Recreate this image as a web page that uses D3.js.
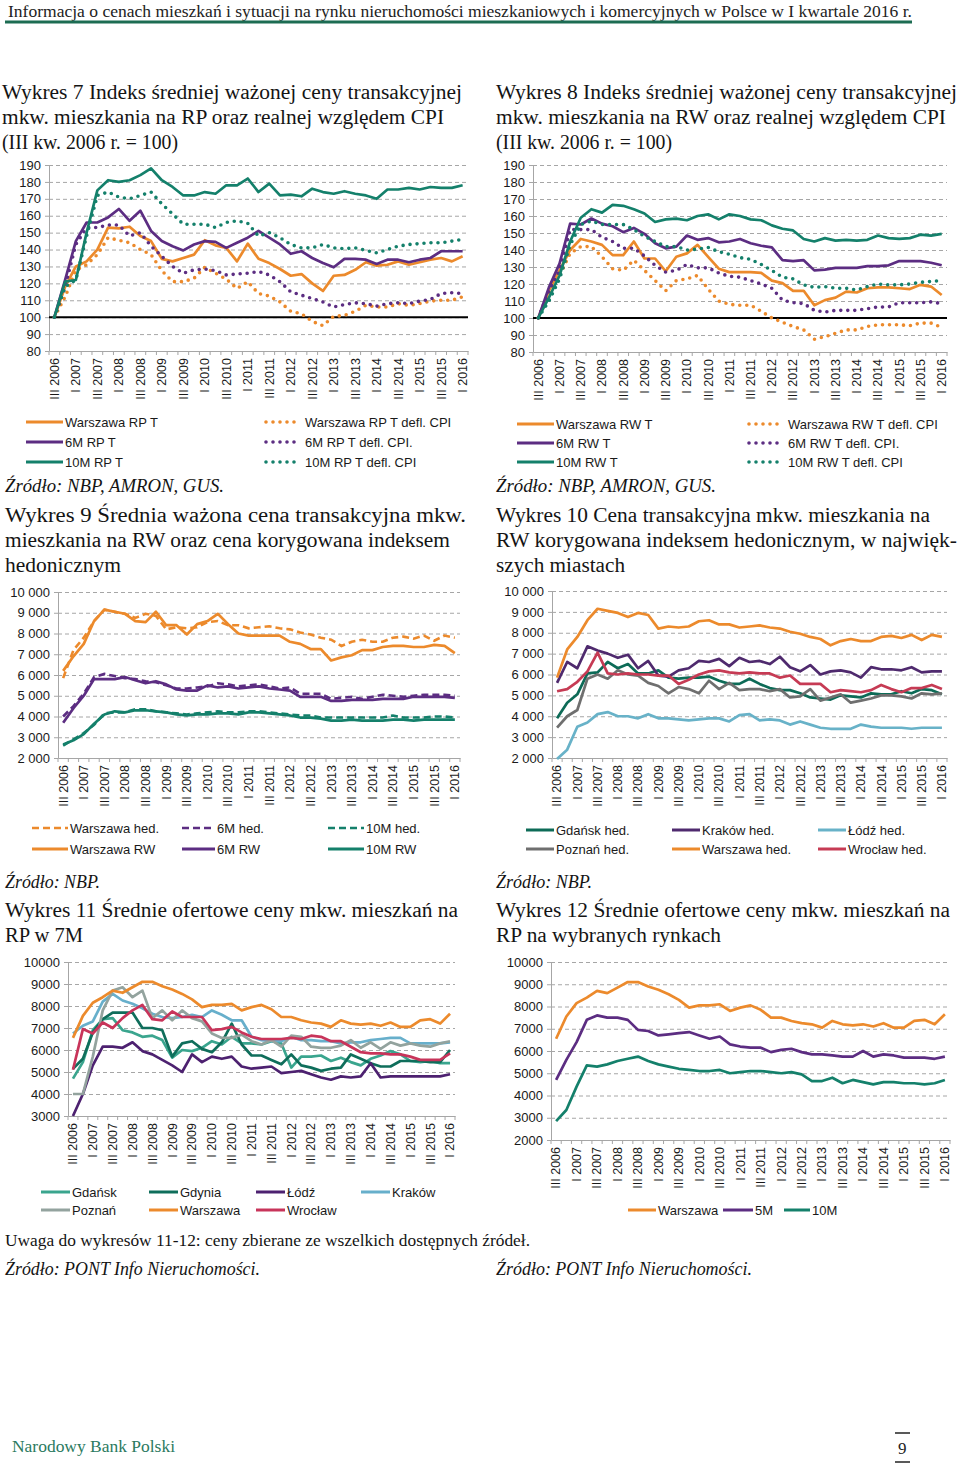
<!DOCTYPE html>
<html>
<head>
<meta charset="utf-8">
<script src="https://cdn.jsdelivr.net/npm/d3@7"></script>
<style>
  body { margin: 0; background: #fff; }
  svg { display: block; }
</style>
</head>
<body>
<div id="page"></div>
<script>
const SANS = '"Liberation Sans", Arial, sans-serif';
const SERIF = '"Liberation Serif", "DejaVu Serif", serif';

// categories: quarters III 2006 .. I 2016
const quarters = ['III 2006','IV 2006','I 2007','II 2007','III 2007','IV 2007','I 2008','II 2008','III 2008','IV 2008',
  'I 2009','II 2009','III 2009','IV 2009','I 2010','II 2010','III 2010','IV 2010','I 2011','II 2011',
  'III 2011','IV 2011','I 2012','II 2012','III 2012','IV 2012','I 2013','II 2013','III 2013','IV 2013',
  'I 2014','II 2014','III 2014','IV 2014','I 2015','II 2015','III 2015','IV 2015','I 2016'];

// Wykres 7 - index, primary market (RP)
const rpWarszawa = [100,118,130,133,140,153,152.5,153.5,148,145,134.5,133,135,137,145.5,142.5,141,133,143.5,134.5,132,128.5,124.5,125.5,120,115.5,124.5,125,128,132.5,130.5,131,133,131,132.5,134,135,133,136];
const rpWarszawaDefl = [100,112,128,131,137,147,145.5,144,140,137,127.5,121,121,123,129.5,126,122.5,117,121,114,112.5,109,103.5,102,97.5,95,100.5,101,103.5,107,106,106,108,107,108,109.5,110,110,112];
const rp6M = [100,122,145,156,156,159,164,157,163,151,145,142,139.5,143,145,144.5,141,144,147,151,147,143,137.5,139,135,132,129.5,134.5,134.5,134,131.5,134,134,132.5,134,135,139,139,139];
const rp6MDefl = [100,118,143,153,153,154.5,154.5,148,150,142,136,130,126,128,128.5,127.5,125,125.5,126,127,125,121,115,113,111,109,106,107.5,108.5,108,106.5,108,108.5,108,109.5,110.5,114,114.5,114];
const rp10M = [100,121,122,150,175,181,180,181,184,188,181,177,172,172,174,173,178,178,182,174,179,172,172.5,171.5,176,174,173,174.5,173,172,170,175.5,175.5,176.5,175.5,177,176.5,176.5,178];
const rp10MDefl = [100,118,122,148,172,174,171,170,172,174,167,161,155,155,155,153,156,157,155.5,148,150,147,143,141,141,143,141,140.5,141,139.5,138,140,142,143,143.5,144,144,145,146];

// Wykres 8 - index, secondary market (RW)
const rwWarszawa = [100,116,128,140,146.5,145,143,137,137,145,135,135,127.5,136,138,143,136,129,127,127,127,126.5,122,120.5,116,116,107.5,110.5,112,115.5,115,117.5,118,118,117.5,117,119.5,118.5,113.5];
const rwWarszawaDefl = [100,114,125,138,142,142,136,129,128,134,128,122,116,122,123,125,117,110,108,107.5,107.5,104,100,97.5,95,93,87.5,89,91,93,93,95,96,96,96,95.5,97,97,94.5];
const rw6M = [100,118,132,155.5,155,158.5,155.5,154,150.5,153,149.5,144,141,142,148.5,146,147,144.5,145,146.5,144,142.5,141.5,134,133.5,134,128,128.5,129.5,129.5,129.5,130.5,130.5,131,133.5,133.5,133.5,132.5,131];
const rw6MDefl = [100,116,128,152,152,152,147.5,145,141,141,136.5,131,127,128,131.5,129.5,129.5,126.5,124.5,124,122,120,117.5,110.5,109,108.5,104.5,103.5,104.5,104.5,104.5,105.5,106.5,106.5,109,109,109,109.5,108.5];
const rw10M = [100,112,125,145,159,164,162,166.5,166,164,161.5,156.5,158,158.5,157.5,160,161,158,161,160,158,157.5,154.5,152.5,151.5,146.5,145,147,145.5,146,145.5,146,148.5,147,146.5,147,149,148.5,149.5];
const rw10MDefl = [100,110,123,143,155,157,155,155,155,152,148,145,142,142,140,140.5,141.5,139,137.5,135.5,134.5,131.5,128,124,123,119.5,118,118.5,117.5,117.5,116.5,118.5,120,119.5,119.5,120,121,121.5,122];

// Wykres 9 - prices RW and hedonic
const priceWarszawaRW = [6200,6900,7500,8600,9150,9050,8950,8600,8550,9050,8400,8400,7950,8450,8600,8950,8450,8000,7900,7900,7900,7900,7600,7500,7250,7250,6700,6850,6950,7200,7200,7350,7400,7400,7350,7350,7450,7400,7050];
const price6MRW = [3700,4400,5000,5800,5800,5800,5900,5750,5600,5700,5550,5300,5250,5250,5500,5400,5450,5350,5400,5450,5350,5300,5250,4950,4950,4950,4750,4750,4800,4800,4800,4850,4850,4850,4950,4950,4950,4950,4900];
const price10MRW = [2650,2850,3150,3650,4100,4250,4200,4300,4300,4250,4200,4100,4050,4100,4100,4150,4150,4100,4200,4200,4150,4100,4050,3950,3950,3900,3800,3800,3850,3800,3800,3800,3850,3850,3800,3850,3850,3850,3850];
const hedWarszawa = [5850,7200,7800,8600,9150,9050,8950,8750,8950,8850,8200,8300,8250,8300,8550,8600,8400,8400,8250,8300,8350,8250,8200,8050,7950,7800,7700,7400,7600,7700,7600,7600,7800,7850,7750,7900,7650,7900,7800];
const hed6M = [4000,4500,5100,5900,6050,5950,5850,5800,5700,5650,5500,5350,5350,5400,5450,5600,5550,5450,5500,5550,5450,5350,5400,5100,5100,5100,4850,4900,4950,4850,4950,5050,5000,4950,5000,5050,5050,5050,5000];
const hed10M = [2600,2900,3200,3600,4150,4200,4200,4350,4350,4250,4200,4150,4100,4150,4200,4250,4200,4200,4250,4250,4200,4150,4100,4050,4050,3950,3950,3950,3950,3950,3950,3950,4050,3950,3950,3950,4000,4000,3950];

// Wykres 10 - hedonic prices in the largest cities
const hedGdansk = [3900,4650,5050,6050,6100,6600,6300,6500,6050,6050,6200,5850,5800,5850,5850,5900,5700,5550,5550,5800,5550,5350,5250,5250,5100,4900,4850,4800,5000,4950,4900,5100,5050,5050,5200,5100,5300,5250,5050];
const hedKrakow = [5600,6600,6300,7350,7150,7000,6800,6950,6300,6650,5950,5900,6200,6300,6650,6600,6750,6400,6800,6600,6650,6500,6850,6350,6150,6450,6000,6150,6200,6100,5850,6350,6250,6250,6200,6350,6100,6150,6150];
const hedLodz = [1950,2400,3500,3700,4100,4200,4000,4000,3900,4100,3900,3900,3850,3800,3850,3900,3900,3750,4050,4100,3800,3850,3800,3600,3750,3600,3450,3400,3400,3400,3600,3500,3450,3450,3450,3400,3450,3450,3450];
const hedPoznan = [3450,4000,4300,5800,6000,5800,6200,6000,5950,5600,5450,5100,5400,5300,5100,5700,5300,5600,5250,5300,5300,5200,5300,4900,4950,5300,4750,4900,5050,4650,4750,4850,5000,5000,4950,4850,5100,5050,5100];
const hedWroclaw = [5200,5300,5650,6150,7050,6050,6000,6050,6000,6000,5950,5950,5550,5750,6000,6150,6200,6100,6050,6100,6050,6050,5850,5950,5550,5550,5550,5150,5250,5200,5150,5250,5500,5300,5150,5350,5350,5500,5300];

// Wykres 11 / 12 - offer prices, primary market
const offerGdansk = [4700,5450,6900,7400,7450,6900,6800,6600,6650,6450,5650,6000,5950,6100,6400,6250,6600,6300,6300,6250,6400,6300,5200,5700,5700,5750,5500,5650,5450,5300,5600,5750,5950,5800,5500,5450,5500,5400,5400];
const offerGdynia = [5150,5600,6800,7400,7700,7700,7700,7000,7000,6900,5700,6300,6400,6050,5900,6350,7200,6250,5750,5750,5550,5350,5800,5300,5200,5050,5150,5200,5800,5600,5400,5250,5250,5500,5500,5500,5450,5450,6000];
const offerLodz = [3000,4000,5300,6150,6150,6100,6350,5950,5800,5550,5300,5000,5800,5450,5700,5600,5700,5250,5150,5200,5250,4950,5000,5050,4900,4750,4650,4800,4750,4800,5400,4750,4800,4800,4800,4800,4800,4800,4900];
const offerKrakow = [6750,7100,7300,8200,8550,8250,8100,7900,7650,7500,7450,7500,7600,7500,7800,7600,7350,7350,6600,6450,6400,6400,6600,6450,6450,6400,6400,6300,6350,6350,6450,6500,6550,6550,6300,6300,6300,6300,6350];
const offerPoznan = [4000,4000,5700,7800,8700,8850,8400,8700,7450,7800,7350,7800,7450,7300,6750,6550,6550,6700,6400,6250,6450,6150,6650,6600,6150,6100,6100,6200,6450,6100,6350,6050,6350,6200,6300,6200,6150,6300,6400];
const offerWarszawa = [6550,7550,8150,8400,8700,8600,8850,9100,9100,8900,8750,8550,8300,7950,8050,8050,8100,7800,7950,8050,7850,7500,7500,7350,7250,7200,7050,7350,7200,7150,7200,7100,7250,7050,7050,7350,7400,7200,7650];
const offerWroclaw = [5100,6950,6750,7250,7000,7450,7800,8050,7400,7350,7750,7500,7500,7500,6900,6950,7050,6800,6600,6500,6500,6500,6550,6500,6650,6600,6400,6400,6150,5900,5850,5850,5800,5800,5700,5550,5550,5550,5850];
const offer5M = [4700,5600,6400,7400,7600,7500,7500,7400,6950,6900,6700,6750,6800,6850,6700,6550,6650,6300,6200,6150,6150,5950,6050,6100,5950,5850,5850,5800,5750,5750,6000,5750,5850,5800,5700,5700,5700,5650,5750];
const offer10M = [2850,3350,4400,5350,5300,5400,5550,5650,5750,5550,5400,5300,5200,5150,5100,5100,5150,5000,5050,5100,5100,5050,5000,5050,4950,4650,4650,4800,4550,4700,4600,4500,4600,4600,4550,4550,4500,4550,4700];

// y tick values
const ticksIndex = d3.range(80, 191, 10);
const ticks2000 = d3.range(2000, 10001, 1000);
const ticks3000 = d3.range(3000, 10001, 1000);

// texts
const headerText = 'Informacja o cenach mieszkań i sytuacji na rynku nieruchomości mieszkaniowych i komercyjnych w Polsce w I kwartale 2016 r.';
const title7 = ['Wykres 7 Indeks średniej ważonej ceny transakcyjnej', 'mkw. mieszkania na RP oraz realnej względem CPI', '(III kw. 2006 r. = 100)'];
const title8 = ['Wykres 8 Indeks średniej ważonej ceny transakcyjnej', 'mkw. mieszkania na RW oraz realnej względem CPI', '(III kw. 2006 r. = 100)'];
const title9 = ['Wykres 9 Średnia ważona cena transakcyjna mkw.', 'mieszkania na RW oraz cena korygowana indeksem', 'hedonicznym'];
const title10 = ['Wykres 10 Cena transakcyjna mkw. mieszkania na', 'RW korygowana indeksem hedonicznym, w najwięk-', 'szych miastach'];
const title11 = ['Wykres 11 Średnie ofertowe ceny mkw. mieszkań na', 'RP w 7M'];
const title12 = ['Wykres 12 Średnie ofertowe ceny mkw. mieszkań na', 'RP na wybranych rynkach'];

const ORANGE = '#ec8a2c', PURPLE = '#5c2d82', TEAL = '#14806b';

const svg = d3.select('#page').append('svg').attr('width', 960).attr('height', 1463);

function txt(x, y, s, o) {
  o = o || {};
  const t = svg.append('text')
    .attr('x', x).attr('y', y).attr('dy', '0.35em')
    .attr('font-family', o.sans ? SANS : SERIF)
    .attr('font-size', o.size || 20)
    .attr('fill', o.color || '#141414')
    .text(s);
  if (o.italic) t.attr('font-style', 'italic');
  if (o.len) t.attr('textLength', o.len).attr('lengthAdjust', 'spacingAndGlyphs');
  return t;
}

function styleLine(p, st) {
  p.attr('fill', 'none').attr('stroke', st.color);
  if (st.style === 'dot') {
    p.attr('stroke-width', 3.6).attr('stroke-dasharray', '0,7').attr('stroke-linecap', 'round');
  } else if (st.style === 'dash') {
    p.attr('stroke-width', 2.6).attr('stroke-dasharray', '7,4');
  } else {
    p.attr('stroke-width', 2.7).attr('stroke-linejoin', 'round');
  }
  return p;
}

function drawChart(c) {
  const g = svg.append('g');
  const x = d3.scaleBand().domain(quarters).range([c.left, c.right]);
  const y = d3.scaleLinear().domain(c.domain).range([c.bottom, c.top]);
  const axisCol = '#a6a6a6';

  // dashed horizontal gridlines
  g.append('g').attr('transform', `translate(${c.left},0)`)
    .call(d3.axisLeft(y).tickValues(c.ticks.slice(1)).tickSize(-(c.right - c.left)).tickFormat(''))
    .call(a => a.select('.domain').remove())
    .call(a => a.selectAll('line').attr('stroke', axisCol).attr('stroke-dasharray', '4,3'));

  // y axis
  const ya = g.append('g').attr('transform', `translate(${c.left},0)`)
    .call(d3.axisLeft(y).tickValues(c.ticks).tickSize(4).tickSizeOuter(0).tickPadding(4).tickFormat(c.fmt));
  ya.select('.domain').attr('stroke', axisCol);
  ya.selectAll('line').attr('stroke', axisCol);
  ya.selectAll('text').attr('font-family', SANS).attr('font-size', 13).attr('fill', '#1a1a1a');

  // x axis with rotated labels every second quarter
  const xa = g.append('g').attr('transform', `translate(0,${c.bottom})`)
    .call(d3.axisBottom(x).tickValues(quarters.filter((q, i) => i % 2 === 0)).tickSize(0).tickSizeOuter(0).tickPadding(0));
  xa.select('.domain').attr('stroke', axisCol);
  xa.selectAll('text')
    .attr('transform', 'rotate(-90)')
    .attr('text-anchor', 'end')
    .attr('x', -7).attr('y', 0).attr('dy', '0.35em')
    .attr('font-family', SANS).attr('font-size', 12.5).attr('fill', '#1a1a1a');
  // small tick marks between categories
  g.append('g').selectAll('line').data(quarters.concat([null])).join('line')
    .attr('x1', d => d === null ? c.right : x(d))
    .attr('x2', d => d === null ? c.right : x(d))
    .attr('y1', c.bottom).attr('y2', c.bottom + 4)
    .attr('stroke', axisCol);

  // base line at 100 for index charts
  if (c.base !== undefined) {
    g.append('line')
      .attr('x1', c.left).attr('x2', c.right)
      .attr('y1', y(c.base)).attr('y2', y(c.base))
      .attr('stroke', '#000').attr('stroke-width', 2);
  }

  const line = d3.line()
    .x((d, i) => x(quarters[i]) + x.bandwidth() / 2)
    .y(d => y(d));

  c.series.forEach(s => {
    styleLine(g.append('path').datum(s.data).attr('d', line), s);
  });
}

function legend(items) {
  items.forEach(it => {
    const l = svg.append('line')
      .attr('x1', it.x - it.w - 2).attr('x2', it.x - 2)
      .attr('y1', it.y).attr('y2', it.y);
    styleLine(l, it);
    if (it.style !== 'dot' && it.style !== 'dash') l.attr('stroke-width', 3);
    if (it.style === 'dot') l.attr('x1', it.x - it.w + 1).attr('x2', it.x - 4);
    txt(it.x, it.y, it.label, { sans: true, size: 13, color: '#1a1a1a' });
  });
}

// ---------- header ----------
txt(8, 11, headerText, { size: 16, len: 904, color: '#222' });
svg.append('line').attr('x1', 5).attr('x2', 912).attr('y1', 22).attr('y2', 22)
  .attr('stroke', '#1c6c52').attr('stroke-width', 3);

// ---------- titles ----------
function title(lines, x, y0, lens) {
  lines.forEach((s, i) => txt(x, y0 + i * 25, s, { size: 20, len: lens[i] }));
}
title(title7, 2, 92, [460, 442, 176]);
title(title8, 496, 92, [461, 450, 176]);
title(title9, 5, 515, [461, 445, 116]);
title(title10, 496, 515, [434, 461, 129]);
title(title11, 5, 910, [453, 78]);
title(title12, 496, 910, [454, 225]);

// ---------- charts ----------
const fmtSpace = d3.formatLocale({ decimal: ',', thousands: ' ', grouping: [3], currency: ['', ''] }).format(',');
const fmtPlain = d3.format('d');

drawChart({
  left: 49, right: 468, top: 165, bottom: 351, domain: [80, 190], ticks: ticksIndex, fmt: fmtPlain, base: 100,
  series: [
    { data: rpWarszawa, color: ORANGE }, { data: rpWarszawaDefl, color: ORANGE, style: 'dot' },
    { data: rp6M, color: PURPLE }, { data: rp6MDefl, color: PURPLE, style: 'dot' },
    { data: rp10MDefl, color: TEAL, style: 'dot' }, { data: rp10M, color: TEAL }
  ]
});
drawChart({
  left: 533, right: 947, top: 165, bottom: 352, domain: [80, 190], ticks: ticksIndex, fmt: fmtPlain, base: 100,
  series: [
    { data: rwWarszawa, color: ORANGE }, { data: rwWarszawaDefl, color: ORANGE, style: 'dot' },
    { data: rw6M, color: PURPLE }, { data: rw6MDefl, color: PURPLE, style: 'dot' },
    { data: rw10MDefl, color: TEAL, style: 'dot' }, { data: rw10M, color: TEAL }
  ]
});
drawChart({
  left: 58, right: 460, top: 592, bottom: 758, domain: [2000, 10000], ticks: ticks2000, fmt: fmtSpace,
  series: [
    { data: hedWarszawa, color: ORANGE, style: 'dash' }, { data: hed6M, color: PURPLE, style: 'dash' },
    { data: hed10M, color: TEAL, style: 'dash' },
    { data: priceWarszawaRW, color: ORANGE }, { data: price6MRW, color: PURPLE }, { data: price10MRW, color: TEAL }
  ]
});
drawChart({
  left: 552, right: 947, top: 591, bottom: 758, domain: [2000, 10000], ticks: ticks2000, fmt: fmtSpace,
  series: [
    { data: hedGdansk, color: '#0d6b57' }, { data: hedKrakow, color: '#4f2a6e' },
    { data: hedLodz, color: '#68b2c8' }, { data: hedPoznan, color: '#6f6f6f' },
    { data: hedWarszawa, color: ORANGE }, { data: hedWroclaw, color: '#c63b54' }
  ]
});
drawChart({
  left: 68, right: 455, top: 962, bottom: 1116, domain: [3000, 10000], ticks: ticks3000, fmt: fmtPlain,
  series: [
    { data: offerGdansk, color: '#3aa58e' }, { data: offerGdynia, color: '#0f6e5b' },
    { data: offerLodz, color: '#4d2170' }, { data: offerKrakow, color: '#67afcb' },
    { data: offerPoznan, color: '#93a39e' }, { data: offerWarszawa, color: ORANGE },
    { data: offerWroclaw, color: '#c8345a' }
  ]
});
drawChart({
  left: 551, right: 950, top: 962, bottom: 1140, domain: [2000, 10000], ticks: ticks2000, fmt: fmtPlain,
  series: [
    { data: offerWarszawa, color: ORANGE }, { data: offer5M, color: PURPLE }, { data: offer10M, color: TEAL }
  ]
});

// ---------- legends ----------
legend([
  { label: 'Warszawa RP T', color: ORANGE, x: 65, y: 422, w: 37 },
  { label: '6M RP T', color: PURPLE, x: 65, y: 442, w: 37 },
  { label: '10M RP T', color: TEAL, x: 65, y: 462, w: 37 },
  { label: 'Warszawa RP T defl. CPI', color: ORANGE, style: 'dot', x: 305, y: 422, w: 40 },
  { label: '6M RP T defl. CPI.', color: PURPLE, style: 'dot', x: 305, y: 442, w: 40 },
  { label: '10M RP T defl. CPI', color: TEAL, style: 'dot', x: 305, y: 462, w: 40 }
]);
legend([
  { label: 'Warszawa RW T', color: ORANGE, x: 556, y: 424, w: 37 },
  { label: '6M RW T', color: PURPLE, x: 556, y: 443, w: 37 },
  { label: '10M RW T', color: TEAL, x: 556, y: 462, w: 37 },
  { label: 'Warszawa RW T defl. CPI', color: ORANGE, style: 'dot', x: 788, y: 424, w: 40 },
  { label: '6M RW T defl. CPI.', color: PURPLE, style: 'dot', x: 788, y: 443, w: 40 },
  { label: '10M RW T defl. CPI', color: TEAL, style: 'dot', x: 788, y: 462, w: 40 }
]);
legend([
  { label: 'Warszawa hed.', color: ORANGE, style: 'dash', x: 70, y: 828, w: 36 },
  { label: '6M hed.', color: PURPLE, style: 'dash', x: 217, y: 828, w: 33 },
  { label: '10M hed.', color: TEAL, style: 'dash', x: 366, y: 828, w: 36 },
  { label: 'Warszawa RW', color: ORANGE, x: 70, y: 849, w: 36 },
  { label: '6M RW', color: PURPLE, x: 217, y: 849, w: 33 },
  { label: '10M RW', color: TEAL, x: 366, y: 849, w: 36 }
]);
legend([
  { label: 'Gdańsk hed.', color: '#0d6b57', x: 556, y: 830, w: 28 },
  { label: 'Kraków hed.', color: '#4f2a6e', x: 702, y: 830, w: 28 },
  { label: 'Łódź hed.', color: '#68b2c8', x: 848, y: 830, w: 28 },
  { label: 'Poznań hed.', color: '#6f6f6f', x: 556, y: 849, w: 28 },
  { label: 'Warszawa hed.', color: ORANGE, x: 702, y: 849, w: 28 },
  { label: 'Wrocław hed.', color: '#c63b54', x: 848, y: 849, w: 28 }
]);
legend([
  { label: 'Gdańsk', color: '#3aa58e', x: 72, y: 1192, w: 29 },
  { label: 'Gdynia', color: '#0f6e5b', x: 180, y: 1192, w: 29 },
  { label: 'Łódź', color: '#4d2170', x: 287, y: 1192, w: 29 },
  { label: 'Kraków', color: '#67afcb', x: 392, y: 1192, w: 29 },
  { label: 'Poznań', color: '#93a39e', x: 72, y: 1210, w: 29 },
  { label: 'Warszawa', color: ORANGE, x: 180, y: 1210, w: 29 },
  { label: 'Wrocław', color: '#c8345a', x: 287, y: 1210, w: 29 }
]);
legend([
  { label: 'Warszawa', color: ORANGE, x: 658, y: 1210, w: 28 },
  { label: '5M', color: PURPLE, x: 755, y: 1210, w: 30 },
  { label: '10M', color: TEAL, x: 812, y: 1210, w: 26 }
]);

// ---------- sources and notes ----------
txt(5, 486, 'Źródło: NBP, AMRON, GUS.', { size: 18, italic: true, len: 219 });
txt(496, 486, 'Źródło: NBP, AMRON, GUS.', { size: 18, italic: true, len: 220 });
txt(5, 882, 'Źródło: NBP.', { size: 18, italic: true, len: 95 });
txt(496, 882, 'Źródło: NBP.', { size: 18, italic: true, len: 96 });
txt(5, 1240, 'Uwaga do wykresów 11-12: ceny zbierane ze wszelkich dostępnych źródeł.', { size: 17, len: 525 });
txt(5, 1269, 'Źródło: PONT Info Nieruchomości.', { size: 18, italic: true, len: 255 });
txt(496, 1269, 'Źródło: PONT Info Nieruchomości.', { size: 18, italic: true, len: 256 });

// ---------- footer ----------
txt(12, 1446, 'Narodowy Bank Polski', { size: 17, len: 163, color: '#2b7a60' });
txt(898, 1448, '9', { size: 17, color: '#222' });
svg.append('line').attr('x1', 895).attr('x2', 910).attr('y1', 1433).attr('y2', 1433).attr('stroke', '#222').attr('stroke-width', 1.5);
svg.append('line').attr('x1', 895).attr('x2', 910).attr('y1', 1462).attr('y2', 1462).attr('stroke', '#222').attr('stroke-width', 1.5);
</script>
</body>
</html>
